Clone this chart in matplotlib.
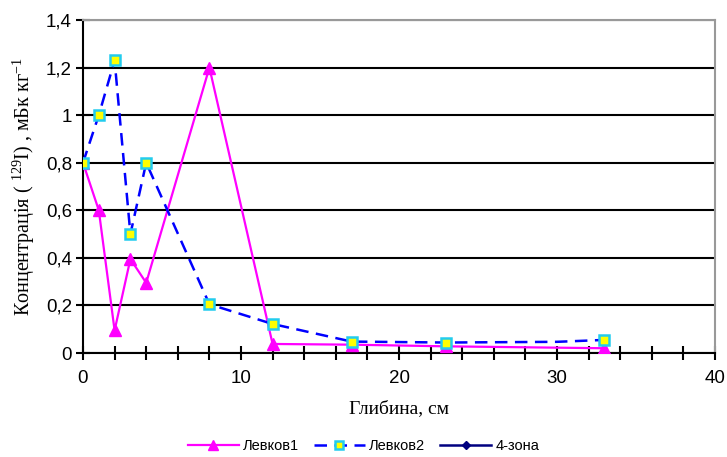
import matplotlib.pyplot as plt
from matplotlib.ticker import MultipleLocator, FuncFormatter

# Levkov1
depth1 = [0, 1, 2, 3, 4, 8, 12, 17, 23, 33]
conc1 = [0.8, 0.6, 0.095, 0.395, 0.295, 1.2, 0.038, 0.035, 0.028, 0.02]

# Levkov2 (point at 30 has no visible marker)
depth2 = [0, 1, 2, 3, 4, 8, 12, 17, 23, 30, 33]
conc2 = [0.8, 1.0, 1.23, 0.5, 0.8, 0.205, 0.122, 0.048, 0.044, 0.047, 0.055]
marked2 = [0, 1, 2, 3, 4, 5, 6, 7, 8, 10]

# 4-зона has no visible data, only the legend entry
depth3 = []
conc3 = []

plt.rcParams['font.family'] = ['Liberation Sans', 'DejaVu Sans']
plt.rcParams['mathtext.fontset'] = 'custom'
plt.rcParams['mathtext.rm'] = 'Liberation Serif'
plt.rcParams['mathtext.it'] = 'Liberation Serif'


def comma(v, pos):
    if abs(v) < 1e-9:
        return '0'
    if abs(v - 1) < 1e-9:
        return '1'
    return f'{v:.1f}'.replace('.', ',')


fig = plt.figure(figsize=(7.27, 4.57), dpi=100)
ax = fig.add_axes([83 / 727, 1 - 353 / 457, 632 / 727, 333 / 457])

ax.plot(depth1, conc1, color='#ff00ff', lw=1.6, marker='^', ms=9,
        mfc='#ff00ff', mec='#ff00ff', label='Левков1', zorder=4)
ax.plot(depth2, conc2, color='#0000ff', lw=1.8, ls=(0, (5, 3)), marker='s', ms=7,
        mfc='#ffff00', mec='#22ccee', mew=1.8, markevery=marked2,
        label='Левков2', zorder=5)
ax.plot(depth3, conc3, color='#000080', lw=1.8, marker='D', ms=5,
        label='4-зона')

ax.set_xlim(0, 40)
ax.set_ylim(0, 1.4)
ax.xaxis.set_major_locator(MultipleLocator(10))
ax.xaxis.set_minor_locator(MultipleLocator(2))
ax.yaxis.set_major_locator(MultipleLocator(0.2))
ax.yaxis.set_major_formatter(FuncFormatter(comma))

ax.grid(axis='y', color='black', lw=1.5)
ax.set_axisbelow(True)
for s in ['top', 'right']:
    ax.spines[s].set_color('#999999')
    ax.spines[s].set_linewidth(1.5)
for s in ['left', 'bottom']:
    ax.spines[s].set_color('black')
    ax.spines[s].set_linewidth(1.5)

ax.tick_params(axis='both', which='both', direction='inout', width=1.5, labelsize=13.5, color='black')
ax.tick_params(axis='x', which='major', length=10, pad=7)
ax.tick_params(axis='x', which='minor', length=10)
ax.tick_params(axis='y', which='major', length=10, pad=3)

ax.set_xlabel('Глибина, см', family=['Liberation Serif', 'DejaVu Serif'], fontsize=14, labelpad=10)
ax.set_ylabel('Концентрація ( $^{129}$I) , мБк кг$^{-1}$', family=['Liberation Serif', 'DejaVu Serif'],
              fontsize=14.5, labelpad=6)

fig.legend(loc='lower center', bbox_to_anchor=(0.5, -0.02), ncol=3, frameon=False,
           fontsize=10.5, handlelength=3.5, columnspacing=1.0, handletextpad=0.3,
           markerscale=0.75)

fig.savefig('out.png', dpi=100)
